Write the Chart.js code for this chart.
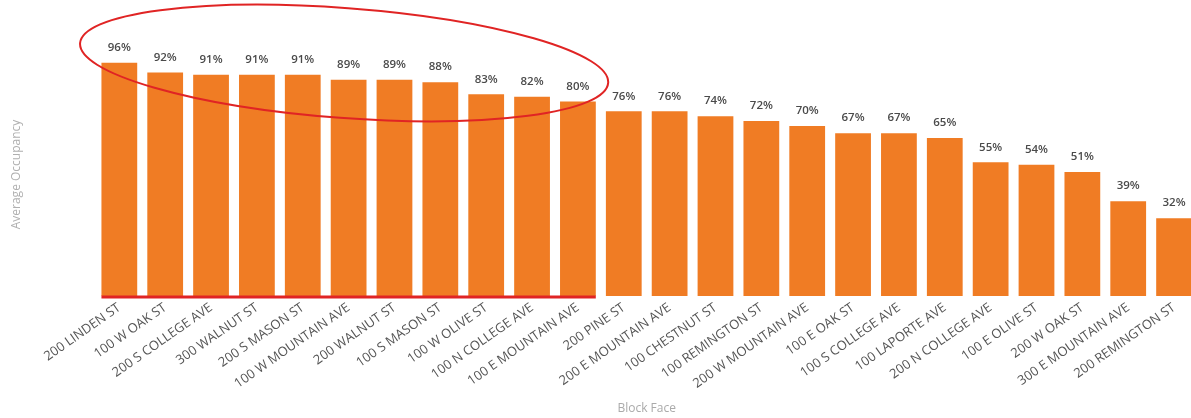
<!DOCTYPE html>
<html>
<head>
<meta charset="utf-8">
<script src="https://cdn.jsdelivr.net/npm/chart.js@4"></script>
<style>
  html, body { margin: 0; padding: 0; background: #fff; overflow: hidden; }
  #wrap { width: 1197px; height: 418px; }
</style>
</head>
<body>
<div id="wrap"><canvas id="occChart"></canvas></div>
<script>
// Block faces, sorted by average occupancy
const blockFaces = [
    "200 LINDEN ST", "100 W OAK ST", "200 S COLLEGE AVE", "300 WALNUT ST",
    "200 S MASON ST", "100 W MOUNTAIN AVE", "200 WALNUT ST", "100 S MASON ST",
    "100 W OLIVE ST", "100 N COLLEGE AVE", "100 E MOUNTAIN AVE", "200 PINE ST",
    "200 E MOUNTAIN AVE", "100 CHESTNUT ST", "100 REMINGTON ST", "200 W MOUNTAIN AVE",
    "100 E OAK ST", "100 S COLLEGE AVE", "100 LAPORTE AVE", "200 N COLLEGE AVE",
    "100 E OLIVE ST", "200 W OAK ST", "300 E MOUNTAIN AVE", "200 REMINGTON ST"
];
const occupancy = [96, 92, 91, 91, 91, 89, 89, 88, 83, 82, 80, 76, 76, 74, 72, 70, 67, 67, 65, 55, 54, 51, 39, 32];
// how many of the top block faces are circled
const highlightCount = 11;

// value labels above each bar
const valueLabels = {
    id: 'valueLabels',
    afterDatasetsDraw(chart) {
        const ctx = chart.ctx;
        const meta = chart.getDatasetMeta(0);
        ctx.save();
        ctx.font = '600 11.5px "Open Sans", sans-serif';
        ctx.fillStyle = '#4a4a4a';
        ctx.textAlign = 'center';
        ctx.textBaseline = 'middle';
        meta.data.forEach((bar, i) => {
            ctx.fillText(occupancy[i] + '%', bar.x, bar.y - 15);
        });
        ctx.restore();
    }
};

// red ellipse + underline around the top group
const highlight = {
    id: 'highlight',
    afterDraw(chart) {
        const ctx = chart.ctx;
        const meta = chart.getDatasetMeta(0);
        const first = meta.data[0];
        const last = meta.data[highlightCount - 1];
        const area = chart.chartArea;
        ctx.save();
        ctx.strokeStyle = '#e02424';
        // underline
        ctx.lineWidth = 3;
        ctx.beginPath();
        ctx.moveTo(first.x - first.width / 2, area.bottom + 1);
        ctx.lineTo(last.x + last.width / 2, area.bottom + 1);
        ctx.stroke();
        // ellipse
        const left = first.x - 40;
        const right = last.x + 31;
        ctx.lineWidth = 2;
        ctx.beginPath();
        ctx.ellipse((left + right) / 2, 63, (right - left) / 2, 55, 0.075, 0, Math.PI * 2);
        ctx.stroke();
        ctx.restore();
    }
};

new Chart(document.getElementById('occChart'), {
    type: 'bar',
    data: {
        labels: blockFaces,
        datasets: [{
            label: 'Average Occupancy',
            data: occupancy,
            backgroundColor: '#f07c24',
            categoryPercentage: 1,
            barPercentage: 0.78
        }]
    },
    options: {
        responsive: true,
        maintainAspectRatio: false,
        animation: false,
        layout: { padding: { top: 53, left: 5, right: 0, bottom: 2 } },
        plugins: {
            legend: { display: false },
            tooltip: { enabled: false }
        },
        scales: {
            x: {
                grid: { display: false, drawTicks: false },
                border: { display: false },
                ticks: {
                    minRotation: 35,
                    maxRotation: 35,
                    autoSkip: false,
                    padding: 4,
                    color: '#555',
                    font: { family: '"Open Sans", sans-serif', size: 13 }
                },
                title: {
                    display: true,
                    text: 'Block Face',
                    color: '#aaa',
                    padding: { top: 6, bottom: 0 },
                    font: { family: '"Open Sans", sans-serif', size: 12 }
                }
            },
            y: {
                min: 0,
                max: 100,
                grid: { display: false, drawTicks: false },
                border: { display: false },
                ticks: { display: false },
                title: {
                    display: true,
                    text: 'Average Occupancy',
                    color: '#b0b0b0',
                    padding: { top: 4, bottom: 73 },
                    font: { family: '"Open Sans", sans-serif', size: 12 }
                }
            }
        }
    },
    plugins: [valueLabels, highlight]
});
</script>
</body>
</html>
